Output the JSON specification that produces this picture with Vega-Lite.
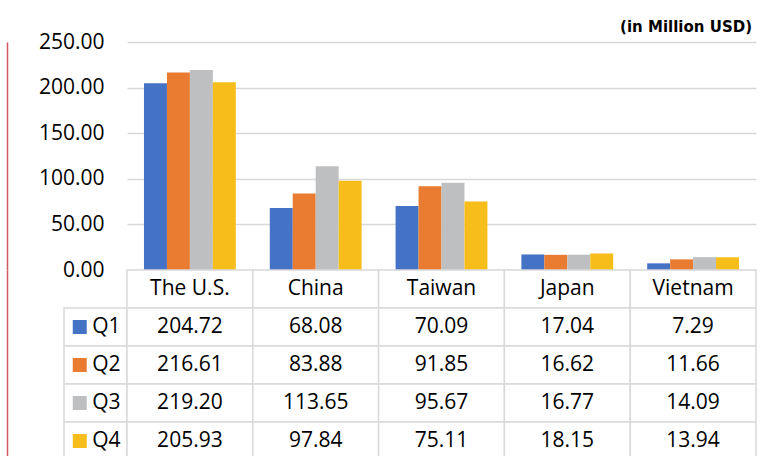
{
  "$schema": "https://vega.github.io/schema/vega-lite/v6.json",
  "padding": {"left": 7, "top": 20, "right": 20, "bottom": 0},
  "background": "white",
  "config": {"view": {"stroke": null}, "font": "Open Sans"},
  "datasets": {
    "sales": [
      {"country": "The U.S.", "quarter": "Q1", "value": 204.72},
      {"country": "The U.S.", "quarter": "Q2", "value": 216.61},
      {"country": "The U.S.", "quarter": "Q3", "value": 219.20},
      {"country": "The U.S.", "quarter": "Q4", "value": 205.93},
      {"country": "China", "quarter": "Q1", "value": 68.08},
      {"country": "China", "quarter": "Q2", "value": 83.88},
      {"country": "China", "quarter": "Q3", "value": 113.65},
      {"country": "China", "quarter": "Q4", "value": 97.84},
      {"country": "Taiwan", "quarter": "Q1", "value": 70.09},
      {"country": "Taiwan", "quarter": "Q2", "value": 91.85},
      {"country": "Taiwan", "quarter": "Q3", "value": 95.67},
      {"country": "Taiwan", "quarter": "Q4", "value": 75.11},
      {"country": "Japan", "quarter": "Q1", "value": 17.04},
      {"country": "Japan", "quarter": "Q2", "value": 16.62},
      {"country": "Japan", "quarter": "Q3", "value": 16.77},
      {"country": "Japan", "quarter": "Q4", "value": 18.15},
      {"country": "Vietnam", "quarter": "Q1", "value": 7.29},
      {"country": "Vietnam", "quarter": "Q2", "value": 11.66},
      {"country": "Vietnam", "quarter": "Q3", "value": 14.09},
      {"country": "Vietnam", "quarter": "Q4", "value": 13.94}
    ],
    "countries": [
      {"country": "The U.S.", "quarter": ""},
      {"country": "China", "quarter": ""},
      {"country": "Taiwan", "quarter": ""},
      {"country": "Japan", "quarter": ""},
      {"country": "Vietnam", "quarter": ""}
    ],
    "quarters": [
      {"quarter": "Q1"},
      {"quarter": "Q2"},
      {"quarter": "Q3"},
      {"quarter": "Q4"}
    ]
  },
  "columns": 2,
  "spacing": 0,
  "bounds": "flush",
  "concat": [
    {
      "width": 63,
      "height": 228,
      "data": {"values": [{}]},
      "mark": {"type": "text", "text": ""},
      "encoding": {
        "y": {"datum": 0, "type": "quantitative", "scale": {"domain": [0, 1]},
          "axis": {"labels": false, "ticks": false, "grid": false, "title": null, "domainColor": "#D0575F", "domainWidth": 1.5, "offset": 57}}
      }
    },
    {
      "width": 629,
      "height": 228,
      "title": {"text": "(in Million USD)", "anchor": "end", "font": "DejaVu Sans", "fontSize": 15, "fontWeight": "bold", "color": "#000000", "offset": -4, "dx": -4},
      "data": {"name": "sales"},
      "mark": {"type": "bar"},
      "encoding": {
        "x": {"field": "country", "type": "nominal", "scale": {"domain": ["The U.S.", "China", "Taiwan", "Japan", "Vietnam"], "paddingInner": 0.27, "paddingOuter": 0.135}, "axis": null},
        "xOffset": {"field": "quarter", "type": "nominal", "scale": {"domain": ["Q1", "Q2", "Q3", "Q4"], "paddingInner": 0, "paddingOuter": 0}},
        "y": {"field": "value", "type": "quantitative", "scale": {"domain": [0, 250]},
          "axis": {"values": [0, 50, 100, 150, 200, 250], "format": ".2f", "domain": false, "ticks": false, "labelPadding": 23, "labelFontSize": 21, "labelFont": "Open Sans", "labelColor": "#000000", "gridColor": "#D9D9D9", "gridWidth": 1.5, "title": null}},
        "color": {"field": "quarter", "type": "nominal", "scale": {"domain": ["Q1", "Q2", "Q3", "Q4"], "range": ["#4472C4", "#E97C30", "#BEBFC0", "#F6BD1B"]}, "legend": null}
      }
    },
    {
      "width": 63,
      "height": 190,
      "data": {"name": "quarters"},
      "encoding": {
        "y": {"field": "quarter", "type": "nominal", "scale": {"domain": ["", "Q1", "Q2", "Q3", "Q4"], "paddingInner": 0, "paddingOuter": 0},
          "axis": {"labels": false, "ticks": false, "grid": false, "title": null, "domainColor": "#D0575F", "domainWidth": 1.5, "offset": 57}}
      },
      "layer": [
        {"mark": {"type": "rect", "fill": "white", "stroke": "#D9D9D9", "strokeWidth": 1.5}},
        {"mark": {"type": "square", "size": 196, "filled": true, "opacity": 1},
          "encoding": {
            "x": {"datum": "sym", "type": "nominal", "scale": {"domain": ["sym", "lab"], "paddingInner": 0, "paddingOuter": 0}, "axis": null},
            "color": {"field": "quarter", "type": "nominal", "scale": {"domain": ["Q1", "Q2", "Q3", "Q4"], "range": ["#4472C4", "#E97C30", "#BEBFC0", "#F6BD1B"]}, "legend": null}
          }},
        {"mark": {"type": "text", "align": "left", "baseline": "middle", "fontSize": 21, "color": "#000000", "dx": -19},
          "encoding": {
            "x": {"datum": "lab", "type": "nominal"},
            "text": {"field": "quarter"}
          }}
      ]
    },
    {
      "width": 629,
      "height": 190,
      "encoding": {
        "x": {"field": "country", "type": "nominal", "scale": {"domain": ["The U.S.", "China", "Taiwan", "Japan", "Vietnam"], "paddingInner": 0, "paddingOuter": 0}, "axis": null},
        "y": {"field": "quarter", "type": "nominal", "scale": {"domain": ["", "Q1", "Q2", "Q3", "Q4"], "paddingInner": 0, "paddingOuter": 0}, "axis": null}
      },
      "layer": [
        {"data": {"name": "countries"}, "mark": {"type": "rect", "fill": "white", "stroke": "#D9D9D9", "strokeWidth": 1.5}},
        {"data": {"name": "sales"}, "mark": {"type": "rect", "fill": "white", "stroke": "#D9D9D9", "strokeWidth": 1.5}},
        {"data": {"name": "countries"}, "mark": {"type": "text", "baseline": "middle", "fontSize": 21, "color": "#000000"},
          "encoding": {"text": {"field": "country"}}},
        {"data": {"name": "sales"}, "mark": {"type": "text", "baseline": "middle", "fontSize": 21, "color": "#000000"},
          "encoding": {"text": {"field": "value", "type": "quantitative", "format": ".2f"}}}
      ]
    }
  ]
}
